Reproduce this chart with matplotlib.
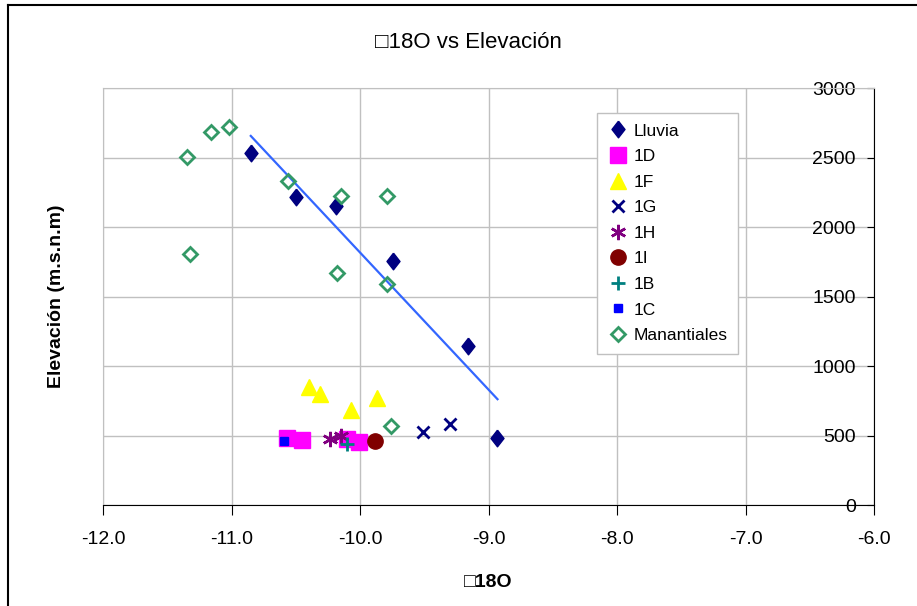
import numpy as np
import matplotlib
matplotlib.use("Agg")
import matplotlib.pyplot as plt
from matplotlib.lines import Line2D

plt.rcParams['font.family'] = ['Liberation Sans', 'DejaVu Sans']

# d18O (x) vs elevation (y) per group
lluvia_x = [-10.85, -10.50, -10.19, -9.74, -9.16, -8.93]
lluvia_y = [2533, 2218, 2150, 1758, 1141, 479]

d1_x = [-10.57, -10.45, -10.10, -10.01]
d1_y = [481, 467, 474, 454]

f1_x = [-10.40, -10.31, -10.07, -9.87]
f1_y = [852, 802, 684, 773]

g1_x = [-9.51, -9.30]
g1_y = [526, 581]

h1_x = [-10.23, -10.15]
h1_y = [474, 497]

i1_x = [-9.88]
i1_y = [457]

b1_x = [-10.10]
b1_y = [440]

c1_x = [-10.59]
c1_y = [462]

man_x = [-11.35, -11.16, -11.02, -10.56, -10.15, -9.79, -11.32, -10.18, -9.79, -9.76]
man_y = [2507, 2687, 2723, 2328, 2220, 2220, 1809, 1672, 1591, 569]

fig = plt.figure(figsize=(9.17, 6.06), dpi=100)
ax = fig.add_axes([103/917, 1 - 505/606, 771/917, 417/606])

tall_diamond = [(0, 1), (0.78, 0), (0, -1), (-0.78, 0), (0, 1)]

ax.plot(lluvia_x, lluvia_y, ls='none', marker=tall_diamond, ms=12, color='#000080', label='Lluvia')

# linear trend line of the rain points
k, b = np.polyfit(lluvia_x, lluvia_y, 1)
tx = np.array([min(lluvia_x), max(lluvia_x)])
ax.plot(tx, k * tx + b, color='#3366FF', lw=1.6, zorder=2)

ax.plot(d1_x, d1_y, ls='none', marker='s', ms=11, color='#FF00FF', label='1D')
ax.plot(f1_x, f1_y, ls='none', marker='^', ms=11, color='#FFFF00', label='1F')
ax.plot(g1_x, g1_y, ls='none', marker='x', ms=9, mew=2, color='#000080', label='1G')
ax.plot(h1_x, h1_y, ls='none', marker=(6, 2, 0), ms=11, mew=1.8, color='#800080', label='1H')
ax.plot(i1_x, i1_y, ls='none', marker='o', ms=11, color='#800000', label='1I')
ax.plot(b1_x, b1_y, ls='none', marker='+', ms=10, mew=2, color='#008080', label='1B')
ax.plot(c1_x, c1_y, ls='none', marker='s', ms=6, color='#0000FF', label='1C')
ax.plot(man_x, man_y, ls='none', marker='D', ms=7, mew=2, mfc='none', mec='#339966', label='Manantiales')

ax.set_xlim(-12, -6)
ax.set_ylim(0, 3000)
ax.set_xticks(np.arange(-12, -5.5, 1.0))
ax.set_xticklabels([f'{v:.1f}' for v in np.arange(-12, -5.5, 1.0)])
ax.set_yticks(np.arange(0, 3001, 500))

ax.grid(True, color='#C0C0C0', lw=1)
ax.set_axisbelow(True)

for s in ['left', 'top']:
    ax.spines[s].set_color('#C0C0C0')
ax.spines['bottom'].set_color('#000000')
ax.spines['right'].set_color('#000000')

ax.tick_params(axis='x', direction='out', length=7, labelsize=14, pad=12)
ax.tick_params(axis='y', left=False, right=True, labelleft=False, labelright=True,
               direction='in', length=5, labelsize=14, pad=-13)
for t in ax.get_yticklabels():
    t.set_horizontalalignment('right')

ax.set_xlabel('\u25a118O', fontsize=14, fontweight='bold')
ax.xaxis.set_label_coords(0.5, -0.165)
ax.set_ylabel('Elevación (m.s.n.m)', fontsize=14, fontweight='bold')
ax.yaxis.set_label_position('left')
ax.yaxis.set_label_coords(-0.049, 0.5)

fig.text(468/917, 1 - 42/606, '\u25a118O vs Elevación', ha='center', va='center', fontsize=16)

ax.legend(loc='upper left', bbox_to_anchor=(597/917, 1 - 113/606), bbox_transform=fig.transFigure,
          fontsize=12.5, frameon=True, fancybox=False, edgecolor='#C0C0C0', framealpha=1,
          borderaxespad=0, handlelength=1.2, handletextpad=0.3, labelspacing=0.6, borderpad=0.6)

# outer chart border
fig.add_artist(Line2D([8/917, 8/917], [0, 1 - 5/606], transform=fig.transFigure, color='black', lw=1.5))
fig.add_artist(Line2D([8/917, 1], [1 - 5/606, 1 - 5/606], transform=fig.transFigure, color='black', lw=1.5))

fig.savefig('out.png', dpi=100)
